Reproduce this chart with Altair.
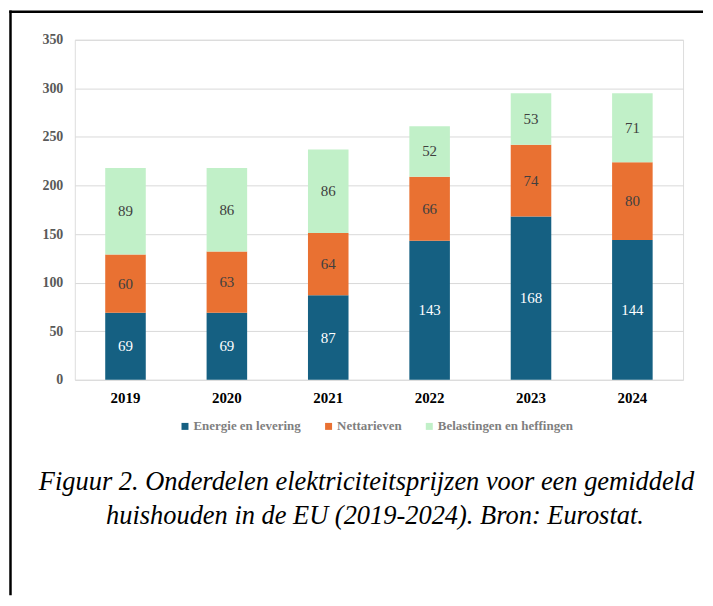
import altair as alt
import pandas as pd

years = ["2019", "2020", "2021", "2022", "2023", "2024"]
series = ["Energie en levering", "Nettarieven", "Belastingen en heffingen"]
energie = [69, 69, 87, 143, 168, 144]
nettarieven = [60, 63, 64, 66, 74, 80]
belastingen = [89, 86, 86, 52, 53, 71]
colors = ["#156082", "#E97132", "#C1F0C8"]
y_ticks = [0, 50, 100, 150, 200, 250, 300, 350]
caption = [
    "Figuur 2. Onderdelen elektriciteitsprijzen voor een gemiddeld",
    "huishouden in de EU (2019-2024). Bron: Eurostat.",
]

rows = []
for i, y in enumerate(years):
    for k, (name, vals) in enumerate(zip(series, [energie, nettarieven, belastingen])):
        rows.append({"year": y, "series": name, "value": vals[i], "order": k})
df = pd.DataFrame(rows)

W, H = 610, 341
FONT = "'Liberation Serif', 'Times New Roman', Times, serif"

base = alt.Chart(df).transform_stack(
    stack="value", groupby=["year"], as_=["v0", "v1"],
    sort=[alt.SortField("order", order="ascending")],
).transform_calculate(mid="(datum.v0 + datum.v1) / 2")

x_enc = alt.X(
    "year:N", sort=years, title=None,
    scale=alt.Scale(paddingInner=0.6, paddingOuter=0.3),
    axis=alt.Axis(labelAngle=0, domain=False, ticks=False, tickSize=0, labelPadding=11,
                  labelFont=FONT, labelFontSize=15, labelFontWeight="bold", labelColor="#000000"),
)

bars = base.mark_bar().encode(
    x=x_enc,
    y=alt.Y("v0:Q", title=None, scale=alt.Scale(domain=[0, 350], nice=False),
            axis=alt.Axis(values=y_ticks, domain=False, ticks=False, tickSize=0, labelPadding=12,
                          gridColor="#d9d9d9", gridWidth=1,
                          labelFont=FONT, labelFontSize=14, labelFontWeight="bold", labelColor="#595959")),
    y2="v1:Q",
    color=alt.Color("series:N", scale=alt.Scale(domain=series, range=colors), title=None,
                    legend=alt.Legend(orient="none", direction="horizontal", legendX=104, legendY=381,
                                      symbolType="square", symbolSize=49, symbolStrokeWidth=0,
                                      labelFont=FONT, labelFontSize=13, labelFontWeight="bold",
                                      labelColor="#7f7f7f", labelOffset=2, columnPadding=21, padding=0)),
    order=alt.Order("order:Q"),
)

labels = base.mark_text(font=FONT, fontSize=15, baseline="middle", align="center").encode(
    x=alt.X("year:N", sort=years),
    y=alt.Y("mid:Q"),
    text=alt.Text("value:Q"),
    color=alt.condition(alt.datum.series == "Energie en levering", alt.value("#ffffff"), alt.value("#404040")),
)

one = alt.Data(values=[{"k": 0}])
frame_top = alt.Chart(one).mark_rule(color="black", strokeWidth=2.5).encode(
    x=alt.value(-65.75), x2=alt.value(630), y=alt.value(-28.05))
frame_left = alt.Chart(one).mark_rule(color="black", strokeWidth=2.5).encode(
    x=alt.value(-64.5), y=alt.value(-29.3), y2=alt.value(557))

cap1 = alt.Chart(one).mark_text(font=FONT, fontSize=26.5, fontStyle="italic", color="#000000",
                                 align="center", baseline="middle").encode(
    x=alt.value(292.5), y=alt.value(444), text=alt.value(caption[0]))
cap2 = alt.Chart(one).mark_text(font=FONT, fontSize=26.5, fontStyle="italic", color="#000000",
                                 align="center", baseline="middle").encode(
    x=alt.value(301), y=alt.value(478), text=alt.value(caption[1]))

chart = alt.layer(bars, labels, frame_top, frame_left, cap1, cap2).properties(
    width=W, height=H,
    padding={"left": 0, "top": 0, "right": 0, "bottom": 0},
).configure_view(stroke=None).configure(background="white")

chart.save("out.html", embed_options={"renderer": "svg", "actions": False})
